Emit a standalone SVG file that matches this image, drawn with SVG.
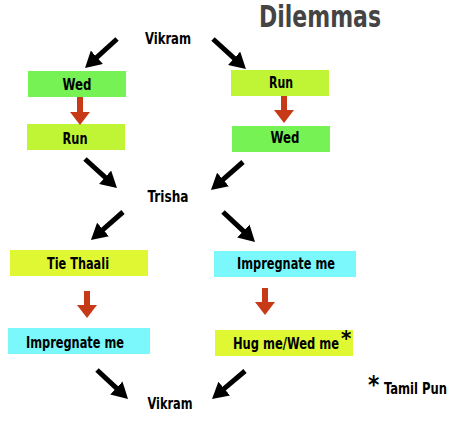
<svg xmlns="http://www.w3.org/2000/svg" width="464" height="431" viewBox="0 0 464 431">
<style>
  text { font-family: "Liberation Sans Narrow", "DejaVu Sans Condensed", "Liberation Sans", sans-serif; font-weight: bold; fill: #000; text-anchor: middle; }
  .lbl { font-size: 16px; }
  .star { font-size: 24px; text-anchor: start; }
  .title { font-size: 30px; fill: #444; }
  .green { fill: #77f255; }
  .lime { fill: #bff534; }
  .yellow { fill: #e0f734; }
  .cyan { fill: #7af8fb; }
  .blk { stroke: #000; stroke-width: 5; fill: none; marker-end: url(#hb); }
  .red { stroke: #c63a18; stroke-width: 6; fill: none; marker-end: url(#hr); }
</style>
<defs>
  <marker id="hb" markerUnits="userSpaceOnUse" viewBox="0 0 16 18" refX="2" refY="9" markerWidth="16" markerHeight="18" orient="auto">
    <path d="M0,0 L16,9 L0,18 z" fill="#000"/>
  </marker>
  <marker id="hr" markerUnits="userSpaceOnUse" viewBox="0 0 13 20" refX="2" refY="10" markerWidth="13" markerHeight="20" orient="auto">
    <path d="M0,0 L13,10 L0,20 z" fill="#c63a18"/>
  </marker>
</defs>
<text class="title" x="320" y="27" textLength="122" lengthAdjust="spacingAndGlyphs">Dilemmas</text>
<g id="vikram-top"><text class="lbl" x="168" y="44" textLength="46" lengthAdjust="spacingAndGlyphs">Vikram</text></g>
<g id="wed-left"><rect class="green" x="28" y="71" width="98" height="26"/><text class="lbl" x="77" y="90" textLength="29" lengthAdjust="spacingAndGlyphs">Wed</text></g>
<g id="run-left"><rect class="lime" x="27" y="124" width="98" height="26"/><text class="lbl" x="75" y="144" textLength="25" lengthAdjust="spacingAndGlyphs">Run</text></g>
<g id="run-right"><rect class="lime" x="231" y="70" width="98" height="26"/><text class="lbl" x="281" y="88" textLength="24" lengthAdjust="spacingAndGlyphs">Run</text></g>
<g id="wed-right"><rect class="green" x="232" y="126" width="98" height="26"/><text class="lbl" x="285" y="143" textLength="29" lengthAdjust="spacingAndGlyphs">Wed</text></g>
<g id="trisha"><text class="lbl" x="168" y="202" textLength="41" lengthAdjust="spacingAndGlyphs">Trisha</text></g>
<g id="tie-thaali"><rect class="yellow" x="10" y="250" width="138" height="26"/><text class="lbl" x="78" y="269" textLength="62" lengthAdjust="spacingAndGlyphs">Tie Thaali</text></g>
<g id="impregnate-right"><rect class="cyan" x="214" y="251" width="142" height="26"/><text class="lbl" x="286" y="269" textLength="98" lengthAdjust="spacingAndGlyphs">Impregnate me</text></g>
<g id="impregnate-left"><rect class="cyan" x="8" y="328" width="142" height="26"/><text class="lbl" x="75" y="348" textLength="98" lengthAdjust="spacingAndGlyphs">Impregnate me</text></g>
<g id="hug-wed"><rect class="yellow" x="215" y="330" width="138" height="26"/><text class="lbl" x="286" y="349" textLength="106" lengthAdjust="spacingAndGlyphs">Hug me/Wed me</text><text class="star" x="341" y="346" style="font-size:22px">*</text></g>
<g id="vikram-bottom"><text class="lbl" x="170" y="409" textLength="45" lengthAdjust="spacingAndGlyphs">Vikram</text></g>
<g id="note"><text class="star" x="368" y="393">*</text><text class="lbl" x="415.5" y="394" textLength="63" lengthAdjust="spacingAndGlyphs">Tamil Pun</text></g>
<g id="connectors">
  <line class="blk" x1="117" y1="39" x2="95.4" y2="58.6"/>
  <line class="blk" x1="213" y1="39" x2="235.6" y2="59.6"/>
  <line class="blk" x1="85" y1="159" x2="106.6" y2="178.6"/>
  <line class="blk" x1="243" y1="162" x2="221.5" y2="180.8"/>
  <line class="blk" x1="123" y1="212" x2="101.5" y2="230.8"/>
  <line class="blk" x1="223" y1="212" x2="244.8" y2="232.4"/>
  <line class="blk" x1="97" y1="370" x2="117.8" y2="389.4"/>
  <line class="blk" x1="245" y1="371" x2="222.7" y2="389.9"/>
  <line class="red" x1="80" y1="97" x2="80" y2="114"/>
  <line class="red" x1="284" y1="96" x2="284" y2="112"/>
  <line class="red" x1="87" y1="291" x2="87" y2="307"/>
  <line class="red" x1="265" y1="288" x2="265" y2="304"/>
</g>
</svg>
